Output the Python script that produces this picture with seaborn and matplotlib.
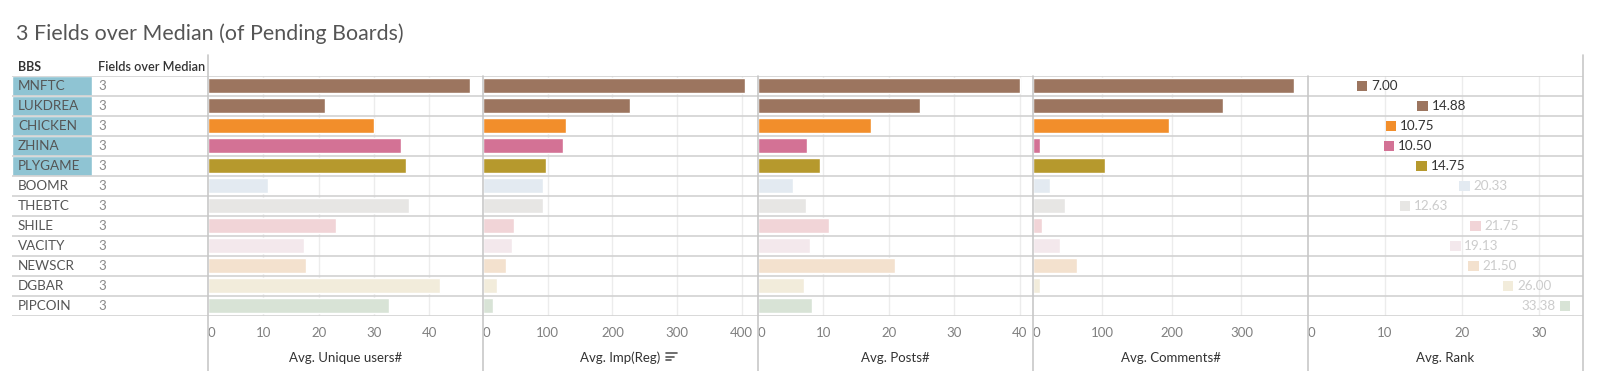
import numpy as np
import pandas as pd
import matplotlib.pyplot as plt
from matplotlib.lines import Line2D
import seaborn as sns

# data
bbs = ["MNFTC", "LUKDREA", "CHICKEN", "ZHINA", "PLYGAME", "BOOMR",
       "THEBTC", "SHILE", "VACITY", "NEWSCR", "DGBAR", "PIPCOIN"]
fields_over_median = [3, 3, 3, 3, 3, 3, 3, 3, 3, 3, 3, 3]
unique_users = [47.3, 21.1, 30.0, 34.8, 35.7, 10.9, 36.3, 23.2, 17.3, 17.8, 41.9, 32.7]
imp_reg = [405, 227, 128, 123, 97, 92, 92, 48, 45, 35, 22, 16]
posts = [40.0, 24.7, 17.2, 7.5, 9.4, 5.3, 7.4, 10.8, 8.0, 20.9, 7.1, 8.2]
comments = [376, 274, 196, 10.5, 103, 25, 46.5, 13.4, 39.3, 63.7, 10.5, 2]
rank = [7.00, 14.88, 10.75, 10.50, 14.75, 20.33, 12.63, 21.75, 19.13, 21.50, 26.00, 33.38]
highlighted = ["MNFTC", "LUKDREA", "CHICKEN", "ZHINA", "PLYGAME"]

bar_colors = ["#9c755f", "#9c755f", "#f28e2b", "#d37295", "#b6992d", "#e3eaf1",
              "#e7e6e4", "#f1d4d7", "#f3e8ec", "#f3e1ce", "#f2ecdb", "#d8e3d6"]
palette = dict(zip(bbs, bar_colors))

df = pd.DataFrame({
    "bbs": bbs,
    "fields": fields_over_median,
    "users": unique_users,
    "imp": imp_reg,
    "posts": posts,
    "comments": comments,
    "rank": rank,
})

sns.set_style("white")
plt.rcParams["font.family"] = ["Lato", "DejaVu Sans"]

W, H = 1599, 371
TOP, BOTTOM = 75.7, 315.7
fig = plt.figure(figsize=(W / 100, H / 100), dpi=100)


def box(x0, x1):
    return [x0 / W, 1 - BOTTOM / H, (x1 - x0) / W, (BOTTOM - TOP) / H]


row_line = "#d2d2d2"
sep_line = "#c8c8c8"

# left table
ax_t = fig.add_axes(box(12, 208))
ax_t.set_xlim(12, 208)
ax_t.set_ylim(11.5, -0.5)
ax_t.axis("off")
n_hi = len(highlighted)
ax_t.barh(range(n_hi), 80, left=12, height=1, color="#8fc4d3", zorder=0)
for i, name in enumerate(bbs):
    ax_t.text(18, i, name, va="center", ha="left", fontsize=9.7, color="#555555")
    ax_t.text(98, i, str(fields_over_median[i]), va="center", ha="left",
              fontsize=9.5, color="#888888")
ax_t.text(18, -0.93, "BBS", va="center", fontsize=9, fontweight="bold",
          color="#333333", clip_on=False)
ax_t.text(98, -0.93, "Fields over Median", va="center", fontsize=9.1,
          fontweight="semibold", color="#333333", clip_on=False)
for y in np.arange(-0.5, 12):
    ax_t.axhline(y, color=row_line, lw=1.2, zorder=3)

panels = [
    ("users", "Avg. Unique users#", 49.7, [0, 10, 20, 30, 40]),
    ("imp", "Avg. Imp(Reg)", 425, [0, 100, 200, 300, 400]),
    ("posts", "Avg. Posts#", 42.0, [0, 10, 20, 30, 40]),
    ("comments", "Avg. Comments#", 395.7, [0, 100, 200, 300]),
    ("rank", "Avg. Rank", 35.7, [0, 10, 20, 30]),
]

for k, (col, label, xmax, ticks) in enumerate(panels):
    x0 = 208 + 275 * k
    ax = fig.add_axes(box(x0, x0 + 275))
    if col == "rank":
        sns.scatterplot(data=df, x=col, y="bbs", hue="bbs", palette=palette,
                        marker="s", s=55, linewidth=0, legend=False, ax=ax, zorder=3)
        for i, v in enumerate(rank):
            txt_color = "#333333" if bbs[i] in highlighted else "#cccccc"
            right = v > 30
            ax.annotate(f"{v:.2f}", (v, i), xytext=(-6.5 if right else 6.5, 0),
                        textcoords="offset points", va="center",
                        ha="right" if right else "left", fontsize=9.7, color=txt_color)
    else:
        sns.barplot(data=df, x=col, y="bbs", hue="bbs", palette=palette,
                    saturation=1, width=0.75, legend=False, ax=ax, zorder=3)
    ax.set_xlim(0, xmax)
    ax.set_ylim(11.5, -0.5)
    for t in ticks[1:]:
        ax.axvline(t, color="#ececec", lw=1, zorder=0)
    for y in np.arange(-0.5, 12):
        ax.axhline(y, color=row_line, lw=1.2, zorder=4)
    ax.set_xticks(ticks)
    ax.set_xticklabels([str(t) for t in ticks])
    ax.get_xticklabels()[0].set_horizontalalignment("left")
    ax.tick_params(axis="x", length=0, pad=8, labelsize=9.5, labelcolor="#808080")
    ax.set_yticks([])
    ax.set_xlabel("")
    ax.set_ylabel("")
    sns.despine(ax=ax, left=True, bottom=True)
    ax.text(0.5, -(358 - BOTTOM) / (BOTTOM - TOP), label, transform=ax.transAxes,
            ha="center", va="center", fontsize=9.5, color="#333333")

# panel separators
for x in [208, 1583]:
    fig.add_artist(Line2D([x / W, x / W], [1 - 55 / H, 0], color=sep_line, lw=1.2))
for x in [483, 758, 1033, 1308]:
    fig.add_artist(Line2D([x / W, x / W], [1 - TOP / H, 0], color=sep_line, lw=1.2))

# sort icon next to Avg. Imp(Reg)
for yy, length in [(353, 11), (356.5, 8), (360, 5)]:
    fig.add_artist(Line2D([666 / W, (666 + length) / W], [1 - yy / H, 1 - yy / H],
                          color="#555555", lw=1.2))

fig.text(16 / W, 1 - 34 / H, "3 Fields over Median (of Pending Boards)",
         fontsize=15.4, color="#555555", va="center", ha="left")

fig.savefig("out.png", dpi=100)
